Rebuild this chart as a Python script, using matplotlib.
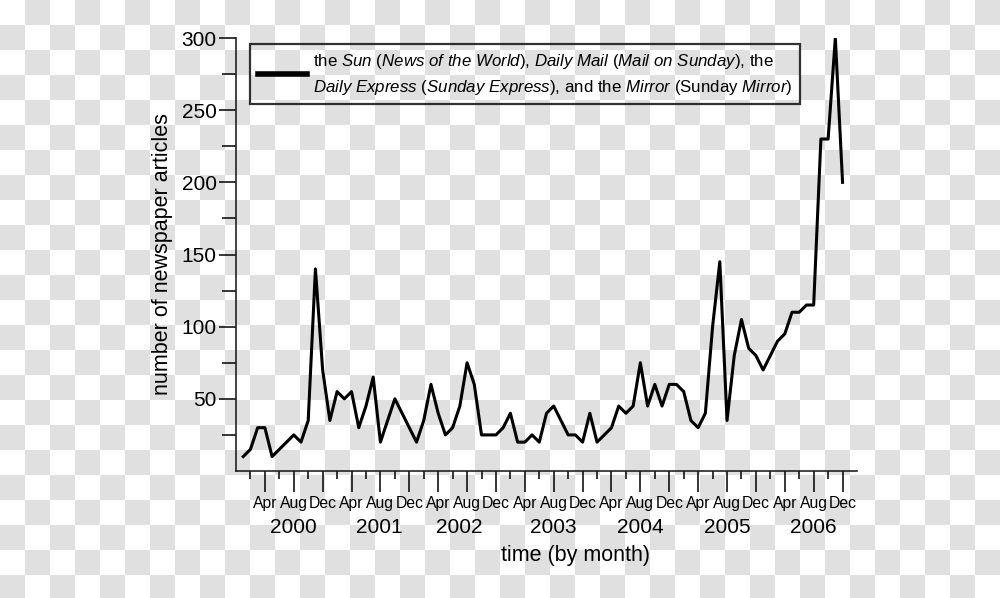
import numpy as np
import matplotlib
matplotlib.use("Agg")
import matplotlib.pyplot as plt
from matplotlib.lines import Line2D
from matplotlib import transforms

plt.rcParams['font.family'] = ['Liberation Sans', 'DejaVu Sans']
plt.rcParams['mathtext.fontset'] = 'custom'
plt.rcParams['mathtext.rm'] = 'Liberation Sans'
plt.rcParams['mathtext.it'] = 'Liberation Sans:italic'

# monthly counts, Jan 2000 .. Dec 2006
months = np.arange(84)
articles = [10, 15, 30, 30, 10, 15, 20, 25, 20, 35, 140, 70,
            35, 55, 50, 55, 30, 45, 65, 20, 35, 50, 40, 30,
            20, 35, 60, 40, 25, 30, 45, 75, 60, 25, 25, 25,
            30, 40, 20, 20, 25, 20, 40, 45, 35, 25, 25, 20,
            40, 20, 25, 30, 45, 40, 45, 75, 45, 60, 45, 60,
            60, 55, 35, 30, 40, 100, 145, 35, 80, 105, 85, 80,
            70, 80, 90, 95, 110, 110, 115, 115, 230, 230, 300, 200]

month_names = ['Apr', 'Aug', 'Dec']
years = ['2000', '2001', '2002', '2003', '2004', '2005', '2006']
year_x = [7, 18.8, 29.9, 43, 55, 67, 79]

legend_text = (r"the $\mathit{Sun}$ ($\mathit{News\ of\ the\ World}$), "
               r"$\mathit{Daily\ Mail}$ ($\mathit{Mail\ on\ Sunday}$), the" "\n"
               r"$\mathit{Daily\ Express}$ ($\mathit{Sunday\ Express}$), "
               r"and the $\mathit{Mirror}$ (Sunday $\mathit{Mirror}$)")

W, H = 1000, 598
fig = plt.figure(figsize=(W / 100, H / 100), dpi=100)

# transparent-background checkerboard as in the source image
yy, xx = np.mgrid[0:H, 0:W]
board = np.where(((xx // 25) + (yy // 25)) % 2 == 1, 224, 255).astype(np.uint8)
fig.figimage(np.dstack([board] * 3), xo=0, yo=0, origin='upper', zorder=-10)
fig.patch.set_alpha(0)

ax = fig.add_axes([236 / W, 1 - 471 / H, 621 / W, 433 / H])
ax.patch.set_alpha(0)

ax.plot(months, articles, color='black', lw=2.2)

ax.set_xlim(-1, 85)
ax.set_ylim(0, 300)

for side in ['top', 'right']:
    ax.spines[side].set_visible(False)
for side in ['left', 'bottom']:
    ax.spines[side].set_linewidth(1.2)
    ax.spines[side].set_color('#222222')

ax.set_yticks(np.arange(50, 301, 50))
ax.set_yticks(np.arange(25, 300, 50), minor=True)
ax.tick_params(axis='y', which='major', length=12, width=1.1, labelsize=15, pad=2)
ax.tick_params(axis='y', which='minor', length=10, width=1.1)

maj = np.arange(3, 84, 4)
ax.set_xticks(maj)
ax.set_xticklabels([month_names[i % 3] for i in range(len(maj))])
ax.set_xticks(np.arange(1, 84, 4), minor=True)
ax.tick_params(axis='x', which='major', length=15, width=1.1, labelsize=11.3, pad=3)
ax.tick_params(axis='x', which='minor', length=6, width=1.1)

trans = transforms.blended_transform_factory(ax.transData, ax.transAxes)
for yx, yl in zip(year_x, years):
    ax.text(yx, -0.13, yl, transform=trans, ha='center', va='center', fontsize=15)

ax.set_xlabel('time (by month)', fontsize=15.5)
ax.xaxis.set_label_coords(0.546, -0.172)
ax.set_ylabel('number of newspaper articles', fontsize=15.5, labelpad=6)

handle = Line2D([], [], color='black', lw=4)
leg = ax.legend([handle], [legend_text], loc='upper left', bbox_to_anchor=(0.0225, 0.986),
                borderaxespad=0, frameon=True, fancybox=False, edgecolor='black',
                facecolor='none', fontsize=12.2, handlelength=2.9, handletextpad=0.35,
                borderpad=0.45)
leg.get_frame().set_linewidth(1.6)
leg.get_texts()[0].set_linespacing(1.5)

fig.savefig('out.png', dpi=100)
